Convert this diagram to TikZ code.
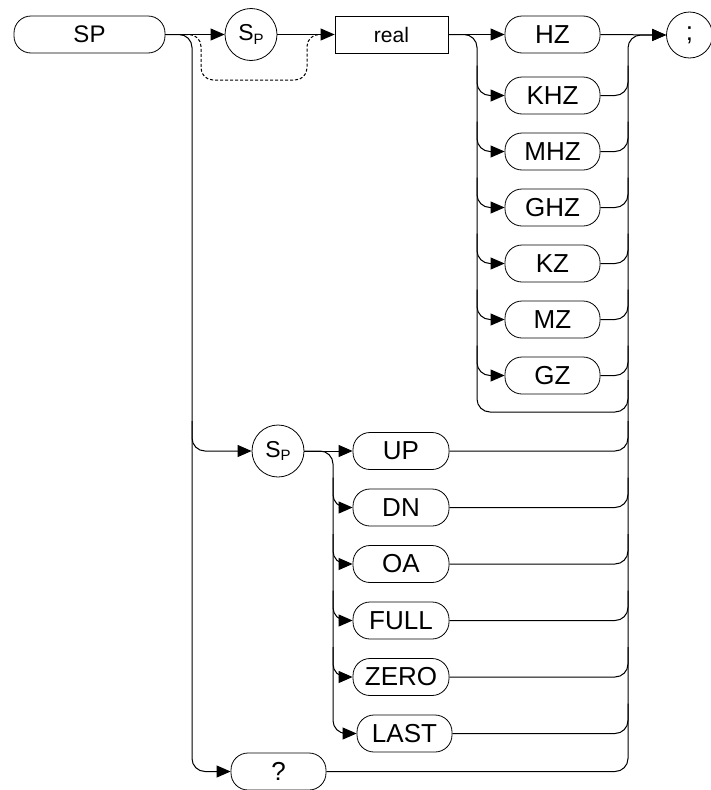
\documentclass[tikz,border=0pt]{standalone}
\usepackage{fontspec}
\setmainfont{Liberation Sans}
\usetikzlibrary{arrows.meta,calc}
\newcommand{\spsym}{S\raisebox{-0.3ex}{\fontsize{15}{15}\selectfont P}}
\begin{document}
\begin{tikzpicture}[x=1pt,y=-1pt,
  txt/.style={font=\fontsize{26}{28}\selectfont},
  pill/.style={txt, draw, line width=0.8pt, rounded corners=17pt, minimum width=95pt, minimum height=37pt, inner sep=0pt},
  box/.style={font=\fontsize{21}{24}\selectfont, draw, line width=0.8pt, minimum width=113pt, minimum height=37pt, inner sep=0pt},
  term/.style={font=\fontsize{23}{25}\selectfont, circle, draw, line width=0.8pt, minimum size=52pt, inner sep=0pt},
  ln/.style={line width=1pt},
  arr/.style={ln, -{Triangle[length=14pt,width=12pt]}},
  rc/.style={rounded corners=13pt}]
\useasboundingbox (0,0) rectangle (711,790);
% bus positions
\coordinate (A) at (192,0);
\coordinate (B) at (477,0);
\coordinate (C) at (628,0);
\coordinate (D) at (333,0);
% nodes
\node[pill, minimum width=151pt, font=\fontsize{24}{26}\selectfont] (sp) at (89.5,34.5) {SP};
\node[term] (s1) at (251,34.5) {\spsym};
\node[box] (real) at (391.5,34.5) {real};
\node[pill] (hz) at (552.5,34.5) {HZ};
\node[pill] (khz) at (552.5,95.5) {KHZ};
\node[pill] (mhz) at (552.5,151.5) {MHZ};
\node[pill] (ghz) at (552.5,207.5) {GHZ};
\node[pill] (kz) at (552.5,263.5) {KZ};
\node[pill] (mz) at (552.5,319.5) {MZ};
\node[pill] (gz) at (552.5,375.5) {GZ};
\node[term, minimum size=46pt, font=\fontsize{26}{28}\selectfont] (semi) at (689.5,35) {;};
\node[term] (s2) at (278,451) {\spsym};
\node[pill, minimum width=96pt] (up) at (401,451) {UP};
\node[pill, minimum width=96pt] (dn) at (401,507.5) {DN};
\node[pill, minimum width=96pt] (oa) at (401,564) {OA};
\node[pill, minimum width=96pt] (full) at (401,620.5) {FULL};
\node[pill, minimum width=96pt] (zero) at (401,677) {ZERO};
\node[pill] (last) at (404.5,733.5) {LAST};
\node[pill] (q) at (278.5,771.5) {?};
% dashed bypass of the first Sp
\coordinate (d1) at (180,34.5);
\coordinate (d2) at (201,80);
\coordinate (d3) at (307,80);
\coordinate (d4) at (325,34.5);
\draw[ln, dash pattern=on 3pt off 2pt, rounded corners=12pt] (d1) -- (d1 -| d2) -- (d2) -- (d3) -- (d4 -| d3) -- (d4);
% main bus
\draw[arr, rc] (sp.east) -| (q.west -| A) -- (q.west);
\draw[arr] (sp.east) -- (s1.west);
\draw[arr, rc] ($(s2.west -| A)+(0,-30)$) |- (s2.west);
\draw[arr] (s1.east) -- (real.west);
% unit group
\draw[arr] (real.east) -- (hz.west);
\draw[ln, rc] (real.east) -| (477,412) -| (628,380);
\foreach \n in {khz,mhz,ghz,kz,mz,gz}{
  \draw[arr, rc] ($(\n.west -| B)+(0,-30)$) |- (\n.west);
  \draw[ln, rc] (\n.east) -| ($(\n.east -| C)+(0,-30)$);
}
% right bus
\draw[arr, rc] (q.east) -| (semi.west -| C) -- (semi.west);
\draw[arr] (hz.east) -- (semi.west);
% second group
\draw[arr] (s2.east) -- (up.west);
\draw[arr, rc] (s2.east) -| (last.west -| D) -- (last.west);
\foreach \n in {dn,oa,full,zero}{
  \draw[arr, rc] ($(\n.west -| D)+(0,-30)$) |- (\n.west);
}
\foreach \n in {up,dn,oa,full,zero,last}{
  \draw[ln, rc] (\n.east) -| ($(\n.east -| C)+(0,-30)$);
}
\end{tikzpicture}
\end{document}
